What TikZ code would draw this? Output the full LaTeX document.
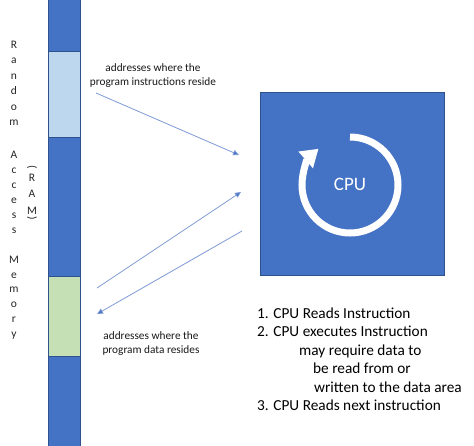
\documentclass[tikz,border=0pt]{standalone}
\usepackage{fontspec}
\setmainfont{Carlito}
\usetikzlibrary{arrows.meta}
\definecolor{ofblue}{HTML}{4472C4}
\definecolor{ofedge}{HTML}{2F528F}
\definecolor{oflight}{HTML}{BDD7EE}
\definecolor{ofgreen}{HTML}{C5E0B4}
\definecolor{ofline}{HTML}{7E9AD6}
\begin{document}
\begin{tikzpicture}[x=1pt,y=-1pt,
  seg/.style={draw=ofedge, line width=0.8pt, minimum width=32.5pt, inner sep=0pt, anchor=north west},
  link/.style={draw=ofline, line width=0.8pt, -{Triangle[length=6pt,width=5.5pt,fill=ofblue]}},
  lbl/.style={font=\fontsize{11.3}{14}\selectfont, align=center, inner sep=0pt, text=black!90},
  lst/.style={font=\fontsize{15.3}{18}\selectfont, anchor=base west, inner sep=0pt},
  vlet/.style={font=\fontsize{11.5}{13}\selectfont, anchor=base, inner sep=0pt, text=black!85}]
\useasboundingbox (0,0) rectangle (474,445);
\fill[white] (0,0) rectangle (474,445);
% memory bar
\node[seg, fill=ofblue, minimum height=448pt] (bar) at (47.5,-1.5) {};
\node[seg, fill=oflight, minimum height=86pt] (instr) at (47.5,51) {};
\node[seg, fill=ofgreen, minimum height=80pt] (data) at (47.5,276) {};
% vertical label
\foreach \c/\y [count=\i] in {R/48,a/63.5,n/79,d/94.5,o/110,m/125.5,A/158,c/173,c/188,e/203,s/218,s/233,M/263,e/278,m/292.5,o/307,r/322,y/337}
  \node[vlet] (v\i) at (14,\y) {\c};
\node[vlet, rotate=-90, anchor=center] (pl) at (32,167) {(};
\node[vlet] (ra) at (32,181) {R};
\node[vlet] (rb) at (32,197) {A};
\node[vlet] (rc) at (32,214) {M};
\node[vlet, rotate=-90, anchor=center] (pr) at (32,218) {)};
% CPU
\node[draw=ofedge, line width=0.6pt, fill=ofblue, minimum width=184pt, minimum height=183pt, anchor=north west, inner sep=0pt] (cpu) at (260,92) {};
\node[text=white, font=\fontsize{19}{22}\selectfont, inner sep=0pt] (cputxt) at (350,184) {CPU};
\draw[white, line width=7pt, -{Triangle[length=17pt,width=21pt]}] (350,185) ++(-90:48) arc[start angle=-90, end angle=229, radius=48];
% arrows
\coordinate (a1s) at (96,93);  \coordinate (a1e) at (239,155);
\coordinate (a2s) at (97,288); \coordinate (a2e) at (241,192);
\coordinate (a3s) at (242,231); \coordinate (a3e) at (97,314);
\draw[link] (a1s) -- (a1e);
\draw[link] (a2s) -- (a2e);
\draw[link] (a3s) -- (a3e);
% labels
\node[lbl] (lblI) at (153,76) {addresses where the\\program instructions reside};
\node[lbl] (lblD) at (151,343.5) {addresses where the\\program data resides};
% list
\node[lst] (l1) at (257,318) {1. CPU Reads Instruction};
\node[lst] (l2) at (257,336) {2. CPU executes Instruction};
\node[lst] (l3) at (299,355) {may require data to};
\node[lst] (l4) at (313,373) {be read from or};
\node[lst] (l5) at (314,392) {written to the data area};
\node[lst] (l6) at (257,410) {3. CPU Reads next instruction};
\end{tikzpicture}
\end{document}
